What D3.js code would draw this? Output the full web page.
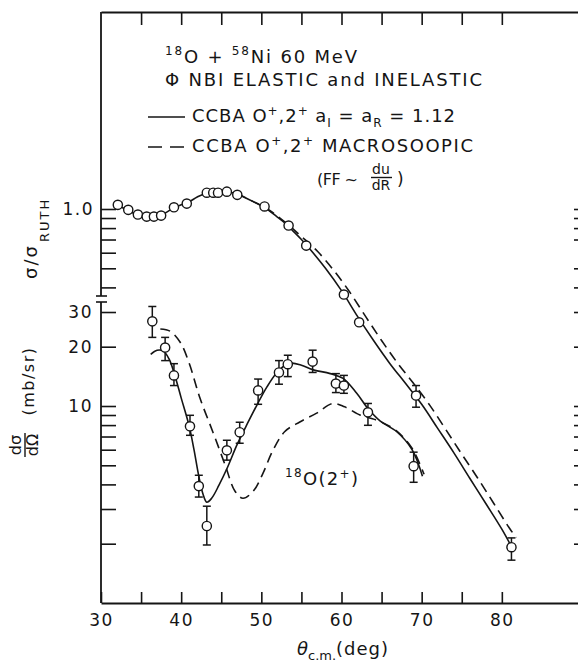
<!DOCTYPE html>
<html><head><meta charset="utf-8">
<script src="https://cdn.jsdelivr.net/npm/d3@7"></script>
<style>
html,body{margin:0;padding:0;background:#fff;}
svg{display:block;font-family:"DejaVu Sans",sans-serif;}
</style></head><body>
<svg id="c" width="578" height="664"></svg>
<script>
// ---------- DATA ----------
// Elastic sigma/sigma_Ruth data (NBI)
const elTheta = [32.1,33.4,34.6,35.7,36.6,37.5,39.1,40.7,43.2,44.0,44.6,45.7,47.0,50.4,53.4,55.6,60.3,62.2,69.3,81.2];
const elRatio = [1.05,0.99,0.937,0.915,0.915,0.926,1.02,1.065,1.21,1.21,1.21,1.225,1.18,1.03,0.824,0.652,0.368,0.266,0.113,0.0192];
const elErrHi = [null,null,null,null,null,null,null,null,null,null,null,null,null,null,null,null,null,null,0.127,0.0214];
const elErrLo = [null,null,null,null,null,null,null,null,null,null,null,null,null,null,null,null,null,null,0.0986,0.0165];

// Inelastic 18O(2+) data (mb/sr)
const inTheta = [36.4,38.0,39.1,41.1,42.2,43.2,45.7,47.3,49.6,52.2,53.3,56.4,59.3,60.3,63.3,69.0];
const inVal   = [26.9,19.8,14.3,7.89,3.92,2.46,5.96,7.36,12.0,14.8,16.3,16.8,13.0,12.7,9.29,4.95];
const inHi    = [32.0,22.3,16.4,8.97,4.45,3.1,6.7,8.27,13.7,17.0,18.1,19.2,14.6,14.3,10.3,5.83];
const inLo    = [22.3,17.0,12.7,7.1,3.45,1.97,5.31,6.47,10.2,12.9,14.1,14.8,11.7,11.6,7.98,4.1];

// CCBA aI=aR=1.12 (solid) elastic
const solElTheta = [31.5,32.1,33,34,35,36,37,38,39,40,41,42,43,44,45,46,47,48,49,50,51,52,53,54,55,56,58,60,62,64,66,68,70,72,74,76,78,80,81.3];
const solElVal   = [1.03,1.04,1.0,0.955,0.925,0.912,0.918,0.955,1.01,1.05,1.09,1.15,1.2,1.22,1.23,1.22,1.19,1.14,1.09,1.04,0.98,0.91,0.845,0.77,0.70,0.63,0.50,0.385,0.285,0.215,0.165,0.13,0.102,0.077,0.058,0.043,0.032,0.0237,0.019];
// CCBA macroscopic (dashed) elastic
const dashElTheta = [43,45,47,49,51,53,55,57,59,61,63,65,67,69,71,73,75,77,79,81,81.8];
const dashElVal   = [1.2,1.23,1.19,1.09,0.985,0.855,0.725,0.61,0.49,0.38,0.285,0.215,0.165,0.13,0.101,0.076,0.057,0.043,0.032,0.0238,0.0215];

// CCBA solid inelastic
const solInTheta = [36.2,37.0,37.8,38.5,39.1,40.0,41.0,41.6,42.2,42.7,43.2,43.8,44.7,45.7,47.0,48.3,49.5,50.7,51.9,53.0,53.8,55.0,56.4,58.6,60.2,61.9,63.3,64.8,66.9,68.8,70.1];
const solInVal   = [18.3,19.2,19.0,17.3,14.8,11.0,7.9,6.0,4.4,3.6,3.25,3.4,3.95,4.8,6.4,8.2,10.2,12.5,14.7,16.1,16.5,16.1,15.3,14.6,13.8,11.6,9.7,8.4,7.4,6.0,4.4];
// CCBA macroscopic dashed inelastic
const dashInTheta = [37.4,38.6,39.9,41.0,42.3,44.0,45.5,46.7,47.7,49.0,50.2,51.4,52.9,54.8,56.9,58.9,60.4,62.3,63.5,64.8,66.9,68.8,70.3];
const dashInVal   = [24.6,24.0,21.0,16.5,11.1,7.3,5.0,3.7,3.4,3.7,4.55,5.9,7.4,8.3,9.2,10.3,9.9,9.0,8.7,8.35,7.45,6.1,4.5];

// Ticks
const thetaTicks = [35,40,45,50,55,60,65,70,75,80];
const thetaLabels = [30,40,50,60,70,80];
const ruthTicks = [0.4,0.5,0.6,0.7,0.8,0.9,1.0];
const dsigTicks = [2,3,4,5,6,7,8,9,10,20,30];
const dsigLabels = [10,20,30];
const rightTicks = [2,3,4,5,6,7,8,9,10,20,30,40,50,70,80,90,100];

// ---------- SCALES ----------
const svg = d3.select("#c");
const x  = d3.scaleLinear().domain([30,90]).range([101,582]);
const yD = d3.scaleLog().domain([1,1000]).range([603,12]);    // mb/sr
const yR = d3.scaleLog().domain([0.01,10]).range([603,12]);   // sigma/sigma_Ruth
const breakTop = 296, breakBot = 302;
const ink = "#151515";
const FONT = '"DejaVu Sans", sans-serif';

function styleAxis(g, fs){
  g.selectAll("line").attr("stroke", ink).attr("stroke-width", 1.6);
  g.selectAll("path.domain").attr("stroke", ink).attr("stroke-width", 1.8);
  g.selectAll("text").attr("fill", ink).attr("font-size", fs||17)
    .attr("font-family", FONT).attr("letter-spacing", 1.5);
}

// bottom axis
const gB = svg.append("g").attr("transform","translate(0,603)")
  .call(d3.axisBottom(x).tickValues([30].concat(thetaTicks)).tickSizeInner(-11).tickSizeOuter(0).tickPadding(11)
    .tickFormat(d => thetaLabels.includes(d) ? d : ""));
styleAxis(gB);
// top axis
const gT = svg.append("g").attr("transform","translate(0,12)")
  .call(d3.axisTop(x).tickValues(thetaTicks).tickSizeInner(-13).tickSizeOuter(0).tickFormat(""));
styleAxis(gT);
// left upper axis
const gLU = svg.append("g").attr("transform","translate(101,0)")
  .call(d3.axisLeft(yR).tickValues(ruthTicks).tickSizeInner(-15).tickSizeOuter(0).tickPadding(7)
    .tickFormat(d => d === 1 ? "1.0" : ""));
gLU.select("path.domain").remove();
styleAxis(gLU);
// left lower axis
const gLL = svg.append("g").attr("transform","translate(101,0)")
  .call(d3.axisLeft(yD).tickValues(dsigTicks).tickSizeInner(-15).tickSizeOuter(0).tickPadding(8)
    .tickFormat(d => dsigLabels.includes(d) ? d : ""));
gLL.select("path.domain").remove();
styleAxis(gLL);
// right axis ticks
const gR = svg.append("g").attr("transform","translate(582,0)")
  .call(d3.axisRight(yD).tickValues(rightTicks).tickSizeInner(-8).tickSizeOuter(0).tickFormat(""));
gR.select("path.domain").remove();
styleAxis(gR);

// left axis line with break
svg.append("line").attr("x1",x(30)).attr("x2",x(30)).attr("y1",yR(10)).attr("y2",breakTop)
  .attr("stroke",ink).attr("stroke-width",1.8);
svg.append("line").attr("x1",x(30)).attr("x2",x(30)).attr("y1",breakBot).attr("y2",yD(1))
  .attr("stroke",ink).attr("stroke-width",1.8);
[breakTop, breakBot].forEach(yy => svg.append("line").attr("x1",x(30)-5).attr("x2",x(30)+6)
  .attr("y1",yy).attr("y2",yy).attr("stroke",ink).attr("stroke-width",1.6));

// ---------- CURVES ----------
const lineR = d3.line().x(d=>x(d[0])).y(d=>yR(d[1])).curve(d3.curveCatmullRom.alpha(0.5));
const lineD = d3.line().x(d=>x(d[0])).y(d=>yD(d[1])).curve(d3.curveCatmullRom.alpha(0.5));
const zip = (a,b) => a.map((v,i)=>[v,b[i]]);

svg.append("path").attr("d", lineR(zip(solElTheta, solElVal)))
  .attr("fill","none").attr("stroke",ink).attr("stroke-width",1.6);
svg.append("path").attr("d", lineR(zip(dashElTheta, dashElVal)))
  .attr("fill","none").attr("stroke",ink).attr("stroke-width",1.6).attr("stroke-dasharray","10,6");
svg.append("path").attr("d", lineD(zip(solInTheta, solInVal)))
  .attr("fill","none").attr("stroke",ink).attr("stroke-width",1.6);
svg.append("path").attr("d", lineD(zip(dashInTheta, dashInVal)))
  .attr("fill","none").attr("stroke",ink).attr("stroke-width",1.6).attr("stroke-dasharray","10,6");

// ---------- DATA POINTS ----------
function errBar(xx, y1, y2){
  const g = svg.append("g").attr("stroke",ink).attr("stroke-width",1.5);
  g.append("line").attr("x1",xx).attr("x2",xx).attr("y1",y1).attr("y2",y2);
  g.append("line").attr("x1",xx-4).attr("x2",xx+4).attr("y1",y1).attr("y2",y1);
  g.append("line").attr("x1",xx-4).attr("x2",xx+4).attr("y1",y2).attr("y2",y2);
}
elTheta.forEach((t,i)=>{ if(elErrHi[i]!=null) errBar(x(t), yR(elErrHi[i]), yR(elErrLo[i])); });
inTheta.forEach((t,i)=> errBar(x(t), yD(inHi[i]), yD(inLo[i])));

svg.append("g").selectAll("circle").data(zip(elTheta, elRatio)).join("circle")
  .attr("cx",d=>x(d[0])).attr("cy",d=>yR(d[1])).attr("r",4.6)
  .attr("fill","#fff").attr("stroke",ink).attr("stroke-width",1.4);
svg.append("g").selectAll("circle").data(zip(inTheta, inVal)).join("circle")
  .attr("cx",d=>x(d[0])).attr("cy",d=>yD(d[1])).attr("r",4.6)
  .attr("fill","#fff").attr("stroke",ink).attr("stroke-width",1.4);

// ---------- TEXT ----------
function txt(xx, yy, fs, len){
  const t = svg.append("text").attr("x",xx).attr("y",yy).attr("font-size",fs)
    .attr("fill",ink).attr("font-family",FONT);
  if(len) t.attr("textLength",len).attr("lengthAdjust","spacing");
  return t;
}
function sup(t, s, fs, dy){ t.append("tspan").attr("font-size",fs).attr("dy",-dy).text(s);
  return t; }
function nrm(t, s, dy){ const sp = t.append("tspan").text(s); if(dy) sp.attr("dy",dy); return t; }

// line 1
let t1 = txt(165, 63, 18, 192);
sup(t1,"18",12,8); nrm(t1,"O + ",8); sup(t1,"58",12,8); nrm(t1,"Ni   60 MeV",8);
// line 2
txt(165, 86, 18, 317).text("\u03A6 NBI ELASTIC and INELASTIC");
// line 3
svg.append("line").attr("x1",148).attr("x2",185).attr("y1",117).attr("y2",117)
  .attr("stroke",ink).attr("stroke-width",1.6);
let t3 = txt(192, 122, 18, 263);
nrm(t3,"CCBA O"); sup(t3,"+",12,7); nrm(t3,",2",7); sup(t3,"+",12,7); nrm(t3," a",7);
t3.append("tspan").attr("font-size",12).attr("dy",5).text("I");
nrm(t3," = a",-5);
t3.append("tspan").attr("font-size",12).attr("dy",5).text("R");
nrm(t3," = 1.12",-5);
// line 4
svg.append("line").attr("x1",148).attr("x2",185).attr("y1",147).attr("y2",147)
  .attr("stroke",ink).attr("stroke-width",1.6).attr("stroke-dasharray","14,8");
let t4 = txt(192, 152, 18, 281);
nrm(t4,"CCBA O"); sup(t4,"+",12,7); nrm(t4,",2",7); sup(t4,"+",12,7); nrm(t4," MACROSOOPIC",7);
// line 5
txt(317, 185, 16, 41).text("(FF ~");
txt(381, 174, 14).attr("text-anchor","middle").text("du");
svg.append("line").attr("x1",371).attr("x2",392).attr("y1",177.5).attr("y2",177.5)
  .attr("stroke",ink).attr("stroke-width",1.4);
txt(381, 190, 14).attr("text-anchor","middle").text("dR");
txt(397, 185, 17).text(")");

// state label
let t6 = txt(285, 485, 18, 73);
sup(t6,"18",12,8); nrm(t6,"O(2",8); sup(t6,"+",12,7); nrm(t6,")",7);

// x axis title
let tx = txt(297, 655, 18);
tx.append("tspan").attr("font-style","italic").text("\u03B8");
tx.append("tspan").attr("font-size",13).attr("dy",5).text("c.m.");
tx.append("tspan").attr("dy",-5).attr("letter-spacing",1).text("(deg)");

// y axis title upper
const yt1 = svg.append("text").attr("transform","translate(37,279) rotate(-90)")
  .attr("font-size",18).attr("fill",ink).attr("font-family",FONT).attr("letter-spacing",2);
yt1.append("tspan").text("\u03C3/\u03C3");
yt1.append("tspan").attr("font-size",13).attr("dy",12).attr("dx",2).text("RUTH");

// y axis title lower: fraction dσ/dΩ and (mb/sr)
const gf = svg.append("g").attr("transform","translate(25,445) rotate(-90)");
gf.append("text").attr("x",0).attr("y",-4).attr("text-anchor","middle").attr("font-size",16)
  .attr("fill",ink).attr("font-family",FONT).text("d\u03C3");
gf.append("line").attr("x1",-12).attr("x2",12).attr("y1",0).attr("y2",0)
  .attr("stroke",ink).attr("stroke-width",1.4);
gf.append("text").attr("x",0).attr("y",13).attr("text-anchor","middle").attr("font-size",16)
  .attr("fill",ink).attr("font-family",FONT).text("d\u03A9");
svg.append("text").attr("transform","translate(34,381) rotate(-90)").attr("text-anchor","middle")
  .attr("font-size",16).attr("fill",ink).attr("font-family",FONT).attr("letter-spacing",1.5)
  .text("(mb/sr)");
</script>
</body></html>
